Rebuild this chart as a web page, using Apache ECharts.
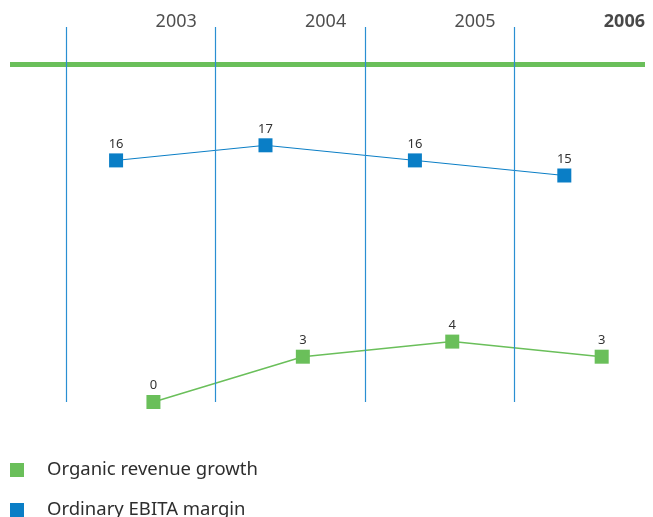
<!DOCTYPE html>
<html>
<head>
<meta charset="utf-8">
<script src="https://cdn.jsdelivr.net/npm/echarts@6/dist/echarts.min.js"></script>
<style>
html,body{margin:0;padding:0;background:#fff;}
#c{width:653px;height:517px;}
</style>
</head>
<body>
<div id="c"></div>
<script>
// ---- data ----
const years = ['2003', '2004', '2005', '2006'];
const organicRevenueGrowth = [0, 3, 4, 3];
const ordinaryEbitaMargin = [16, 17, 16, 15];
const seriesNames = ['Organic revenue growth', 'Ordinary EBITA margin'];

// ---- layout constants (column offsets in year units) ----
const DIV_OFF = 0.375;    // vertical divider
const BLUE_OFF = 0.71;    // EBITA marker
const GREEN_OFF = 0.96;   // growth marker
const LABEL_OFF = 1.25;   // year label right edge
const Y_TOP_LABEL = 25.2;
const Y_DIV_TOP = 24.83;
const Y_RULE = 22.35;

const GREEN = '#6abf5a';
const BLUE = '#0a7ec6';
const FONT = '"Noto Sans", "Open Sans", sans-serif';

const chart = echarts.init(document.getElementById('c'), null, {renderer: 'canvas'});

const dividerLines = years.map((y, i) => [
  {coord: [i + DIV_OFF, Y_DIV_TOP]},
  {coord: [i + DIV_OFF, 0]}
]);

const yearLabelData = years.map((y, i) => ({
  value: [i + LABEL_OFF, Y_TOP_LABEL],
  name: y,
  label: i === years.length - 1 ? {fontWeight: 'bold', color: '#1a1a1a'} : {}
}));

const legendBase = {
  orient: 'vertical',
  left: 5,
  itemWidth: 14, itemHeight: 14,
  icon: 'rect',
  textStyle: {fontSize: 18.5, color: '#2e2e2e', fontFamily: FONT, lineHeight: 20, padding: [0, 0, 0, 18]}
};

chart.setOption({
  animation: false,
  backgroundColor: '#fff',
  textStyle: {fontFamily: FONT},
  grid: {left: 10, right: 8, top: 9.4, bottom: 115},
  xAxis: {
    type: 'value', min: 0, max: 4.25,
    show: false
  },
  yAxis: {
    type: 'value', min: 0, max: 26,
    show: false
  },
  legend: [
    Object.assign({}, legendBase, {top: 455, data: [seriesNames[0]]}),
    Object.assign({}, legendBase, {top: 495, data: [seriesNames[1]]})
  ],
  series: [
    {
      type: 'scatter',
      name: 'labels',
      symbolSize: 0,
      silent: true,
      data: yearLabelData,
      label: {
        show: true, position: 'left', distance: 0,
        formatter: p => p.name,
        fontSize: 18, color: '#222', fontFamily: FONT
      },
      markLine: {
        silent: true,
        symbol: 'none',
        label: {show: false},
        data: [
          {yAxis: Y_RULE, lineStyle: {color: GREEN, width: 5, type: 'solid'}}
        ].concat(dividerLines.map(d => [
          Object.assign({lineStyle: {color: '#2a8fd2', width: 1.2, type: 'solid'}}, d[0]), d[1]
        ]))
      },
      z: 1
    },
    {
      type: 'line',
      name: seriesNames[1],
      data: ordinaryEbitaMargin.map((v, i) => [i + BLUE_OFF, v]),
      symbol: 'rect',
      symbolSize: 14,
      itemStyle: {color: BLUE},
      lineStyle: {color: BLUE, width: 1},
      label: {show: true, position: 'top', distance: 3, fontSize: 13, color: '#333', formatter: p => p.value[1]},
      z: 3
    },
    {
      type: 'line',
      name: seriesNames[0],
      data: organicRevenueGrowth.map((v, i) => [i + GREEN_OFF, v]),
      symbol: 'rect',
      symbolSize: 14,
      itemStyle: {color: GREEN},
      lineStyle: {color: GREEN, width: 1.5},
      label: {show: true, position: 'top', distance: 3, fontSize: 13, color: '#333', formatter: p => p.value[1]},
      z: 3
    }
  ]
});
</script>
</body>
</html>
